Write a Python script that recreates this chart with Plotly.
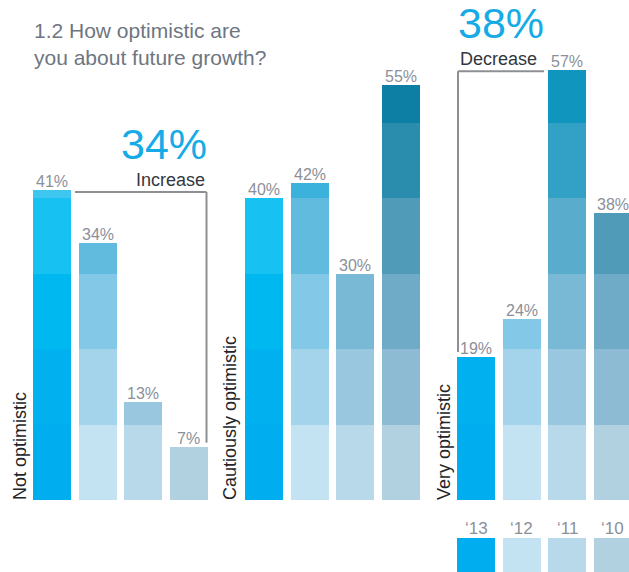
import plotly.graph_objects as go

# Survey answers per category, one value per year ('13, '12, '11, '10)
groups = ["Not optimistic", "Cautiously optimistic", "Very optimistic"]
years = ["\u201813", "\u201812", "\u201811", "\u201810"]
not_optimistic = [41, 34, 13, 7]
cautiously_optimistic = [40, 42, 30, 55]
very_optimistic = [19, 24, 57, 38]
values = [not_optimistic, cautiously_optimistic, very_optimistic]

# Each bar is shaded in 10-point bands, darker towards the top
band_colors = {
    0: ["#00AEEF", "#01B0EE", "#00B8F0", "#17C1F2", "#3EC6F0", "#5CCEF2"],
    1: ["#C3E3F2", "#A3D4EB", "#83C8E6", "#60BBDF", "#3AB2DC", "#22A6D6"],
    2: ["#B8D9E9", "#98C7DF", "#7AB9D6", "#5AACCC", "#33A0C6", "#1096BE"],
    3: ["#B1D1E0", "#8DBBD3", "#6FAAC6", "#4F9BB8", "#2A8DAE", "#0D7FA5"],
}

W, H = 629, 572
PX_PER_UNIT = 7.55
BASE_PX = 500
y_min = -(H - BASE_PX) / PX_PER_UNIT
y_max = BASE_PX / PX_PER_UNIT


def px_to_y(py):
    """Convert a pixel row (from the top) into value units."""
    return (BASE_PX - py) / PX_PER_UNIT


group_start = [52, 264, 476]
step = 45.5
bar_w = 38

FONT = "Liberation Sans"
LABEL_GRAY = "#8B9099"

fig = go.Figure()

for yi in range(len(years)):
    xs = [g + yi * step for g in group_start]
    vals = [values[gi][yi] for gi in range(len(groups))]
    for k in range(6):
        seg = [max(0, min(10, v - 10 * k)) for v in vals]
        fig.add_trace(go.Bar(
            x=xs, y=seg, base=[10 * k] * len(xs), width=bar_w,
            marker=dict(color=band_colors[yi][k], line=dict(width=0)),
            hoverinfo="skip", showlegend=False,
        ))
    # year key swatch under the last group
    sw_top = px_to_y(538)
    fig.add_trace(go.Bar(
        x=[group_start[2] + yi * step], y=[sw_top - y_min + 1], base=[y_min - 1],
        width=bar_w,
        marker=dict(color=band_colors[yi][0], line=dict(width=0)),
        hoverinfo="skip", showlegend=False,
    ))
    fig.add_annotation(x=group_start[2] + yi * step, y=px_to_y(528),
                       text=years[yi], showarrow=False, xanchor="center", yanchor="middle",
                       font=dict(family=FONT, size=17, color=LABEL_GRAY))

# value labels above each bar
for gi in range(len(groups)):
    for yi in range(len(years)):
        v = values[gi][yi]
        fig.add_annotation(x=group_start[gi] + yi * step, y=v, text=f"{v}%",
                           showarrow=False, xanchor="center", yanchor="bottom", yshift=-2,
                           font=dict(family=FONT, size=16, color=LABEL_GRAY))

# rotated category names
cat_x = [20, 230, 444]
for gi, name in enumerate(groups):
    fig.add_annotation(x=cat_x[gi], y=0, text=name, textangle=-90, showarrow=False,
                       xanchor="center", yanchor="bottom", yshift=-2,
                       font=dict(family=FONT, size=18, color="#222428"))

# title
fig.add_annotation(x=32, y=1 - 17 / H, xref="x", yref="paper",
                   text="1.2 How optimistic are<br>you about future growth?",
                   showarrow=False, xanchor="left", yanchor="top", align="left",
                   font=dict(family=FONT, size=21, color="#6E7681"))

LINE = dict(color="#8C8F94", width=2)
BIG_BLUE = "#16ABE6"

# bracket: change in "Not optimistic" from '10 to '13
x1_left = group_start[0] + bar_w / 2 + 4
x1_right = group_start[0] + 3 * step + bar_w / 2 - 1
top1 = not_optimistic[0] - 0.2
fig.add_shape(type="line", x0=x1_left, x1=x1_right, y0=top1, y1=top1, line=LINE)
fig.add_shape(type="line", x0=x1_right, x1=x1_right, y0=top1, y1=not_optimistic[3] + 0.6, line=LINE)
fig.add_annotation(x=x1_right, y=top1, text="Increase", showarrow=False,
                   xanchor="right", yanchor="bottom", yshift=0,
                   font=dict(family=FONT, size=18, color="#33373D"))
fig.add_annotation(x=x1_right + 2, y=top1, text=f"{not_optimistic[0] - not_optimistic[3]}%",
                   showarrow=False, xanchor="right", yanchor="bottom", yshift=22,
                   font=dict(family=FONT, size=43, color=BIG_BLUE))

# bracket: change in "Very optimistic" from '11 to '13
x3_left = group_start[2] - bar_w / 2 + 1
x3_right = group_start[2] + 2 * step - bar_w / 2 - 4
top3 = very_optimistic[2] - 0.2
fig.add_shape(type="line", x0=x3_left, x1=x3_right, y0=top3, y1=top3, line=LINE)
fig.add_shape(type="line", x0=x3_left, x1=x3_left, y0=top3, y1=very_optimistic[0] + 0.6, line=LINE)
fig.add_annotation(x=x3_left, y=top3, text="Decrease", showarrow=False,
                   xanchor="left", yanchor="bottom", yshift=0,
                   font=dict(family=FONT, size=18, color="#33373D"))
fig.add_annotation(x=x3_left - 2, y=top3, text=f"{very_optimistic[2] - very_optimistic[0]}%",
                   showarrow=False, xanchor="left", yanchor="bottom", yshift=22,
                   font=dict(family=FONT, size=43, color=BIG_BLUE))

fig.update_layout(
    width=W, height=H, margin=dict(l=0, r=0, t=0, b=0),
    barmode="overlay", bargap=0,
    paper_bgcolor="white", plot_bgcolor="white",
    xaxis=dict(range=[0, W], visible=False, fixedrange=True),
    yaxis=dict(range=[y_min, y_max], visible=False, fixedrange=True),
    showlegend=False,
)

fig.write_html("out.html")
